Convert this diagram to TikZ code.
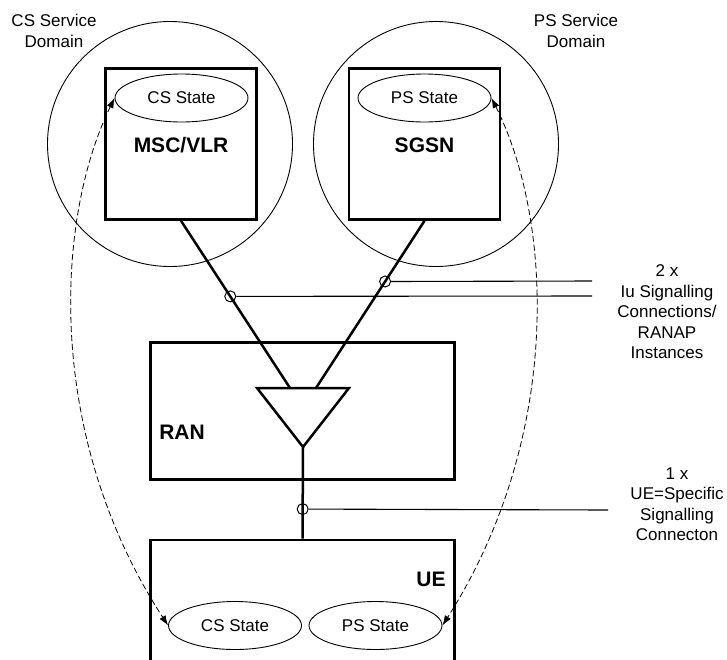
\documentclass[tikz,border=0pt]{standalone}
\usepackage{fontspec}
\setmainfont{Liberation Sans}
\usetikzlibrary{arrows.meta,shapes.geometric}
\begin{document}
\begin{tikzpicture}[x=1pt,y=-1pt,
  every node/.style={font=\fontsize{17}{20.5}\selectfont},
  svcdom/.style={draw,circle,line width=0.9pt,minimum size=245pt,inner sep=0pt},
  netbox/.style={draw,line width=2.6pt,inner sep=0pt},
  statebub/.style={draw,ellipse,line width=0.9pt,minimum width=133pt,minimum height=48pt,inner sep=0pt},
  boldlbl/.style={font=\fontsize{21}{24}\selectfont\bfseries},
  thickline/.style={line width=2.5pt},
  thinline/.style={line width=1.1pt},
  junction/.style={draw,circle,line width=1pt,minimum size=11pt,inner sep=0pt},
  statelink/.style={dashed,dash pattern=on 6pt off 3pt,line width=0.8pt,{Latex[length=10pt,width=7pt]}-{Latex[length=10pt,width=7pt]}},
  txtlbl/.style={align=center}]
\useasboundingbox (0,0) rectangle (727,659);
\clip (0,0) rectangle (727,659);
\fill[white] (0,0) rectangle (727,659);
% service domains
\node[svcdom] (csdom) at (170,144) {};
\node[svcdom] (psdom) at (436,144) {};
\node[txtlbl] (cslab) at (54,31) {CS Service\\Domain};
\node[txtlbl] (pslab) at (576,31) {PS Service\\Domain};
% core nodes
\node[netbox,minimum width=151pt,minimum height=151pt] (msc) at (181,144) {};
\node[netbox,minimum width=151pt,minimum height=151pt] (sgsn) at (424.5,144) {};
\node[statebub] (mscst) at (181.5,98) {CS State};
\node[statebub] (sgsnst) at (424.5,98) {PS State};
\node[boldlbl] (msclab) at (181,145) {MSC/VLR};
\node[boldlbl] (sgsnlab) at (424.5,145) {SGSN};
% RAN
\node[netbox,minimum width=304pt,minimum height=137pt] (ran) at (302.5,411) {};
\node[boldlbl] (ranlab) at (182,432) {RAN};
\coordinate (tl) at (257,388);
\coordinate (tr) at (349,388);
\coordinate (tb) at (303,447);
\coordinate (tin1) at (290,388);
\coordinate (tin2) at (316,388);
\draw[thickline,line join=miter] (tl) -- (tr) -- (tb) -- cycle;
% UE
\node[netbox,minimum width=304pt,minimum height=160pt] (ue) at (302.5,620) {};
\node[boldlbl] (uelab) at (431,579) {UE};
\node[statebub] (uecs) at (235,625.5) {CS State};
\node[statebub] (ueps) at (375.5,625.5) {PS State};
% Iu connections
\coordinate (iu1) at (592,296);
\coordinate (iu2) at (592,281);
\draw[thickline] (msc.south) -- node[pos=0.452,junction] (j1) {} (tin1);
\draw[thinline] (j1.east) -- (iu1);
\draw[thickline] (sgsn.south) -- node[pos=0.363,junction] (j2) {} (tin2);
\draw[thinline] (j2.east) -- (iu2);
\node[txtlbl] (iulab) at (667,312) {2 x\\Iu Signalling\\Connections/\\RANAP\\Instances};
% UE connection
\coordinate (uec) at (608,510);
\draw[thickline] (tb) -- node[pos=0.677,junction] (j3) {} (ue.north);
\draw[thinline] (j3.east) -- (uec);
\node[txtlbl] (uelab2) at (677,504) {1 x\\UE=Specific\\Signalling\\Connecton};
% state links
\draw[statelink] (mscst.west) .. controls (55,220) and (45,436) .. (uecs.west);
\draw[statelink] (sgsnst.east) .. controls (553,220) and (563,436) .. (ueps.east);
\end{tikzpicture}
\end{document}
